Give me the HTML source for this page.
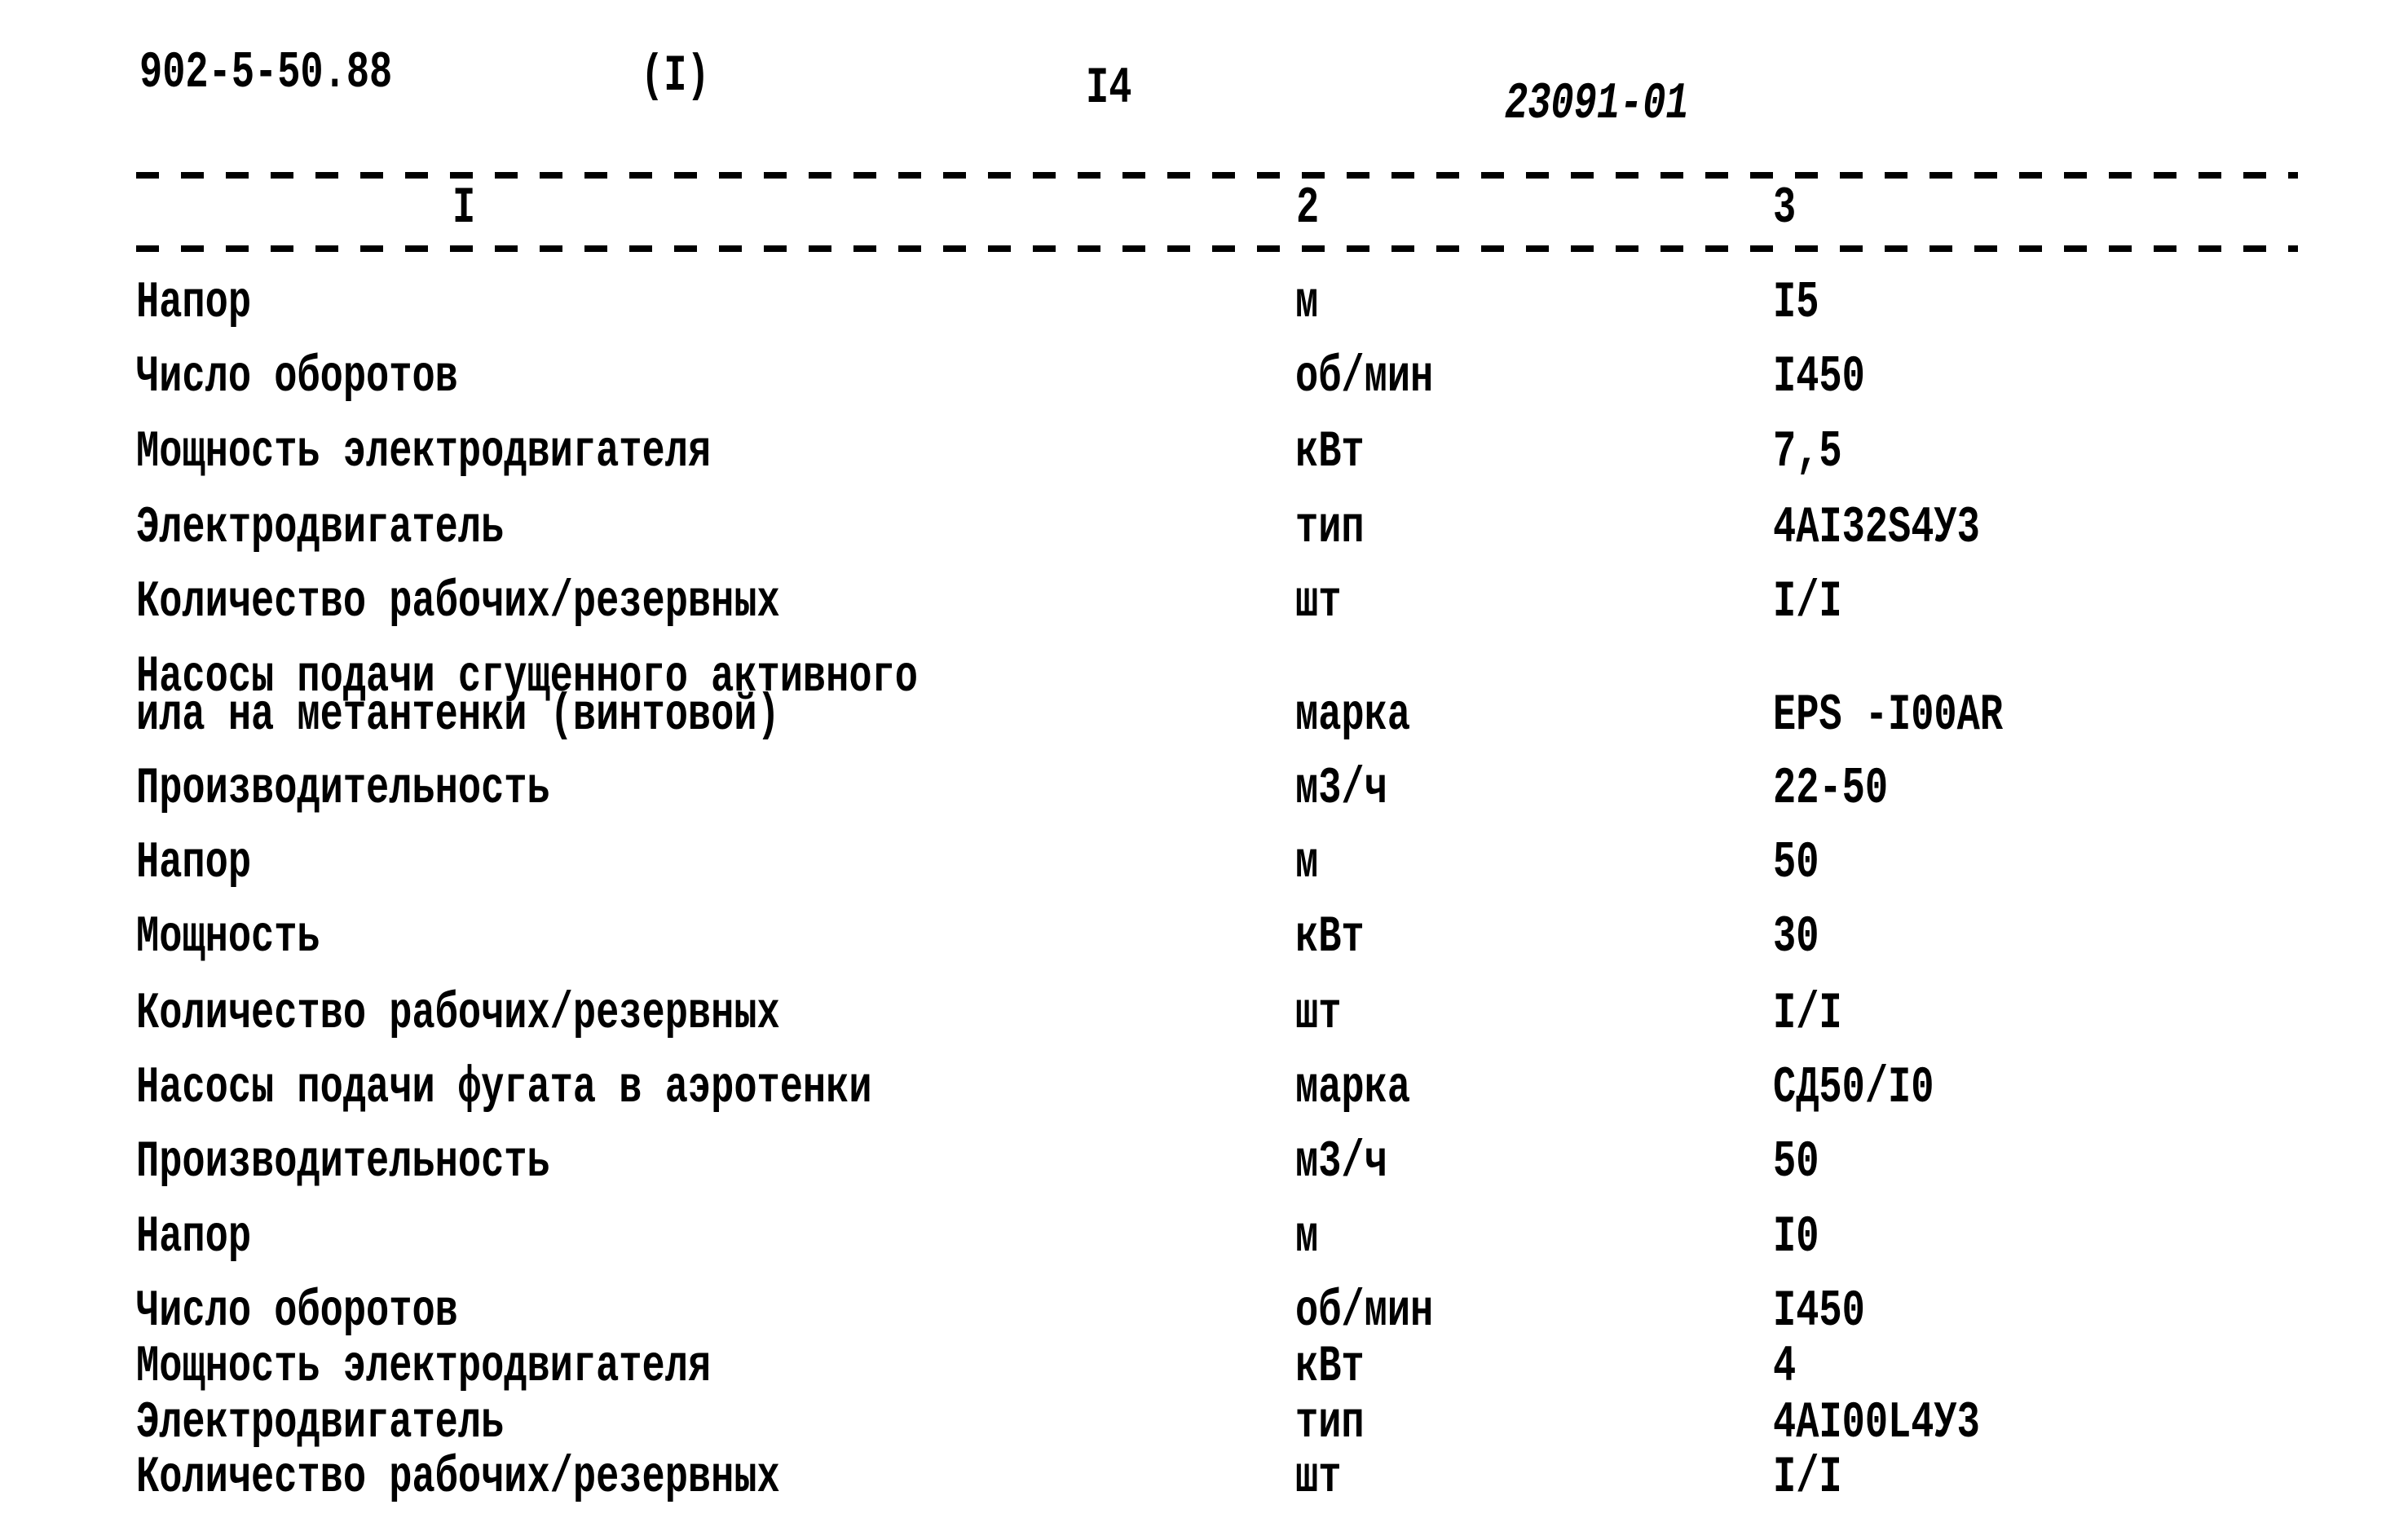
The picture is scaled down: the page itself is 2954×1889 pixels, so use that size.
<!DOCTYPE html>
<html><head><meta charset="utf-8"><style>
html,body{margin:0;padding:0;background:#fff;}
body{width:2954px;height:1889px;position:relative;overflow:hidden;}
.t{position:absolute;font-family:"Liberation Mono","DejaVu Sans Mono",monospace;font-weight:bold;font-size:47px;line-height:50px;height:50px;color:#000;white-space:pre;transform:scaleY(1.35);transform-origin:left center;}
.d{position:absolute;left:167px;width:2652px;height:8px;background:repeating-linear-gradient(90deg,#000 0 28px,transparent 28px 55px);}
</style></head><body>
<div class="t" style="left:171px;top:66px">902-5-50.88</div>
<div class="t" style="left:786px;top:70px">(I)</div>
<div class="t" style="left:1332px;top:85px">I4</div>
<div class="t" style="left:1846px;top:104px;font-style:italic">23091-01</div>
<div class="d" style="top:211px"></div>
<div class="d" style="top:301px"></div>
<div class="t" style="left:555px;top:232px">I</div>
<div class="t" style="left:1590px;top:232px">2</div>
<div class="t" style="left:2175px;top:232px">3</div>

<div class="t" style="left:167px;top:348px">Напор</div><div class="t" style="left:1589px;top:348px">м</div><div class="t" style="left:2175px;top:348px">I5</div>
<div class="t" style="left:167px;top:439px">Число оборотов</div><div class="t" style="left:1589px;top:439px">об/мин</div><div class="t" style="left:2175px;top:439px">I450</div>
<div class="t" style="left:167px;top:531px">Мощность электродвигателя</div><div class="t" style="left:1589px;top:531px">кВт</div><div class="t" style="left:2175px;top:531px">7,5</div>
<div class="t" style="left:167px;top:624px">Электродвигатель</div><div class="t" style="left:1589px;top:624px">тип</div><div class="t" style="left:2175px;top:624px">4АI32S4У3</div>
<div class="t" style="left:167px;top:715px">Количество рабочих/резервных</div><div class="t" style="left:1589px;top:715px">шт</div><div class="t" style="left:2175px;top:715px">I/I</div>
<div class="t" style="left:167px;top:807px">Насосы подачи сгущенного активного</div>
<div class="t" style="left:167px;top:854px">ила на метантенки (винтовой)</div><div class="t" style="left:1589px;top:854px">марка</div><div class="t" style="left:2175px;top:854px">EPS -I00AR</div>
<div class="t" style="left:167px;top:944px">Производительность</div><div class="t" style="left:1589px;top:944px">м3/ч</div><div class="t" style="left:2175px;top:944px">22-50</div>
<div class="t" style="left:167px;top:1035px">Напор</div><div class="t" style="left:1589px;top:1035px">м</div><div class="t" style="left:2175px;top:1035px">50</div>
<div class="t" style="left:167px;top:1126px">Мощность</div><div class="t" style="left:1589px;top:1126px">кВт</div><div class="t" style="left:2175px;top:1126px">30</div>
<div class="t" style="left:167px;top:1220px">Количество рабочих/резервных</div><div class="t" style="left:1589px;top:1220px">шт</div><div class="t" style="left:2175px;top:1220px">I/I</div>
<div class="t" style="left:167px;top:1311px">Насосы подачи фугата в аэротенки</div><div class="t" style="left:1589px;top:1311px">марка</div><div class="t" style="left:2175px;top:1311px">СД50/I0</div>
<div class="t" style="left:167px;top:1402px">Производительность</div><div class="t" style="left:1589px;top:1402px">м3/ч</div><div class="t" style="left:2175px;top:1402px">50</div>
<div class="t" style="left:167px;top:1494px">Напор</div><div class="t" style="left:1589px;top:1494px">м</div><div class="t" style="left:2175px;top:1494px">I0</div>
<div class="t" style="left:167px;top:1585px">Число оборотов</div><div class="t" style="left:1589px;top:1585px">об/мин</div><div class="t" style="left:2175px;top:1585px">I450</div>
<div class="t" style="left:167px;top:1653px">Мощность электродвигателя</div><div class="t" style="left:1589px;top:1653px">кВт</div><div class="t" style="left:2175px;top:1653px">4</div>
<div class="t" style="left:167px;top:1722px">Электродвигатель</div><div class="t" style="left:1589px;top:1722px">тип</div><div class="t" style="left:2175px;top:1722px">4АI00L4У3</div>
<div class="t" style="left:167px;top:1789px">Количество рабочих/резервных</div><div class="t" style="left:1589px;top:1789px">шт</div><div class="t" style="left:2175px;top:1789px">I/I</div>
</body></html>
